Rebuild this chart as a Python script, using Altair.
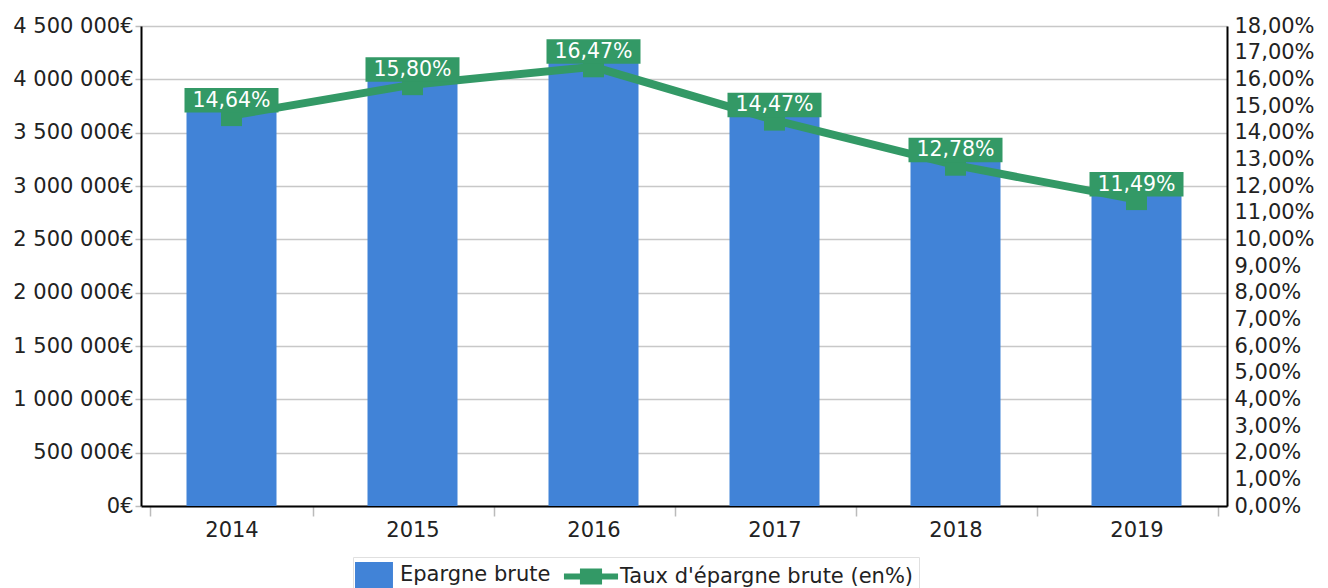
import altair as alt
import pandas as pd

years = ["2014", "2015", "2016", "2017", "2018", "2019"]
epargne = [3750000, 4030000, 4200000, 3700000, 3280000, 2950000]
taux = [14.64, 15.80, 16.47, 14.47, 12.78, 11.49]
series_names = ["Epargne brute", "Taux d'épargne brute (en%)"]
left_ticks = [0, 500000, 1000000, 1500000, 2000000, 2500000, 3000000, 3500000, 4000000, 4500000]
right_ticks = list(range(0, 19))

BLUE = "#4183d7"
GREEN = "#339966"
FONT = "DejaVu Sans"
FS = 21

df = pd.DataFrame({
    "year": years,
    "epargne": epargne,
    "taux": taux,
    "label": [f"{v:.2f}".replace(".", ",") + "%" for v in taux],
    "series": series_names[1],
})
legend_df = pd.DataFrame({"year": [years[0], years[0]], "taux": [0, 0], "series": series_names})

x_enc = alt.X("year:O", title=None,
              axis=alt.Axis(labelAngle=0, labelFontSize=FS, labelFont=FONT, labelColor="#222",
                            domainColor="#000", domainWidth=2, tickBand="extent", tickColor="#bbb",
                            tickSize=10, tickWidth=1.5, labelPadding=3))

bars = alt.Chart(df).mark_bar(color=BLUE, size=90).encode(
    x=x_enc,
    y=alt.Y("epargne:Q", title=None,
            scale=alt.Scale(domain=[0, 4500000], nice=False),
            axis=alt.Axis(orient="left", values=left_ticks, grid=True, gridColor="#c8c8c8", gridWidth=1.5,
                          domainColor="#000", domainWidth=2, tickColor="#bbb", tickSize=6, tickWidth=1.5,
                          labelFontSize=FS, labelFont=FONT, labelColor="#222", labelPadding=2,
                          labelExpr="replace(format(datum.value, ',d'), regexp(',', 'g'), ' ') + '€'")),
)

y_right = alt.Y("taux:Q", title=None,
                scale=alt.Scale(domain=[0, 18], nice=False),
                axis=alt.Axis(orient="right", values=right_ticks, grid=False,
                              domainColor="#000", domainWidth=2, ticks=False,
                              labelFontSize=FS, labelFont=FONT, labelColor="#222", labelPadding=7,
                              labelExpr="replace(format(datum.value, '.2f'), '.', ',') + '%'"))

line = alt.Chart(df).mark_line(color=GREEN, strokeWidth=8).encode(x=x_enc, y=y_right)
markers = alt.Chart(df).mark_square(color=GREEN, size=441, opacity=1).encode(x=x_enc, y=y_right)
boxes = alt.Chart(df).mark_point(
    shape="M-1,-0.585L1,-0.585L1,-0.064L-1,-0.064Z", size=8836, filled=True,
    color=GREEN, opacity=1, strokeWidth=0,
).encode(x=x_enc, y=y_right)
texts = alt.Chart(df).mark_text(color="white", fontSize=20.5, font=FONT, dy=-15, baseline="middle").encode(
    x=x_enc, y=y_right, text="label:N")

leg = dict(title=None, orient="none", legendX=212, legendY=531,
           direction="horizontal", strokeColor="#e0e0e0", padding=5,
           symbolSize=676, symbolOpacity=1, symbolStrokeWidth=0,
           labelFontSize=FS, labelFont=FONT, labelColor="#222", labelLimit=500,
           labelOffset=16, columnPadding=12)

legend_layer = alt.Chart(legend_df).mark_point(filled=True, opacity=0).encode(
    x=x_enc, y=y_right,
    color=alt.Color("series:N",
                    scale=alt.Scale(domain=series_names, range=[BLUE, GREEN]),
                    legend=alt.Legend(**leg)),
    shape=alt.Shape("series:N",
                    scale=alt.Scale(domain=series_names,
                                    range=["M-1.23,-1L1.69,-1L1.69,1L-1.23,1Z",
                                           "M-2.08,-0.23L-0.85,-0.23L-0.85,-0.62L0.85,-0.62L0.85,-0.23L2.08,-0.23L2.08,0.23L0.85,0.23L0.85,0.62L-0.85,0.62L-0.85,0.23L-2.08,0.23Z"]),
                    legend=alt.Legend(**leg)),
)

right = alt.layer(line, markers, boxes, texts, legend_layer)

chart = alt.layer(bars, right).resolve_scale(y="independent").properties(
    width=1086, height=480,
    autosize=alt.AutoSizeParams(type="none"),
    padding={"left": 133, "top": 18, "right": 93, "bottom": 90},
).configure_view(stroke=None).configure(font=FONT)

chart.save("out.html", embed_options={"renderer": "svg", "actions": False})
